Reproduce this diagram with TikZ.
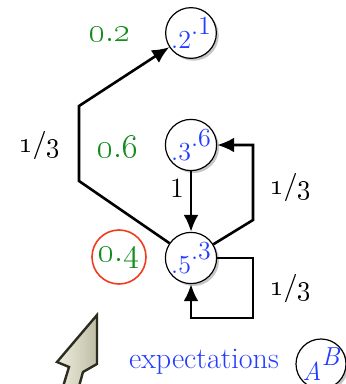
\documentclass[tikz,border=0pt]{standalone}
\usepackage{tikz}
\usetikzlibrary{arrows.meta, shadows}

\definecolor{probgreen}{RGB}{20,140,30}
\definecolor{exblue}{RGB}{35,60,255}
\definecolor{ringred}{RGB}{240,60,30}
\definecolor{cursorline}{RGB}{45,45,30}
\definecolor{cursorlight}{RGB}{238,238,225}
\definecolor{cursordark}{RGB}{190,190,165}

\begin{document}
\begin{tikzpicture}[x=0.5pt, y=-0.5pt, >={Latex[length=8.5pt,width=7.5pt]},
    state/.style={circle, draw, line width=0.6pt, fill=white, minimum size=25pt, inner sep=0pt,
        font=\fontsize{13}{15}\selectfont, text=exblue,
        drop shadow={opacity=0.45, shadow xshift=1.2pt, shadow yshift=-1.2pt}},
    prob/.style={text=probgreen, font=\fontsize{19}{21}\selectfont},
    ring/.style={circle, draw=ringred, line width=0.8pt, minimum size=27pt, inner sep=0pt},
    edge/.style={line width=1.3pt},
    weight/.style={font=\fontsize{14}{16}\selectfont}]
    \useasboundingbox (0,0) rectangle (345,384);

    % States
    \node[state] (n2) at (191,33) {\raisebox{-0.4ex}{.2}\raisebox{0.9ex}{.1}};
    \node[state] (n3) at (191,145) {\raisebox{-0.4ex}{.3}\raisebox{0.9ex}{.6}};
    \node[state] (n5) at (191,258) {\raisebox{-0.4ex}{.5}\raisebox{0.9ex}{.3}};

    % Probabilities
    \node[prob] (p2) at (110,34) {\oldstylenums{0.2}};
    \node[prob] (p6) at (118,146) {\oldstylenums{0.6}};
    \node[prob, ring] (p4) at (119,257) {\oldstylenums{0.4}};

    % Bend points
    \coordinate (l1) at (79,181);
    \coordinate (l2) at (79,106);
    \coordinate (r1) at (253,220);
    \coordinate (r2) at (253,145);
    \coordinate (s1) at (253,258);
    \coordinate (s2) at (253,318);
    \coordinate (s3) at (191,318);

    % Transitions
    \draw[edge, ->] (n5) -- (l1) -- (l2) -- (n2);
    \draw[edge, ->] (n5) -- (r1) -- (r2) -- (n3);
    \draw[edge, ->] (n3) -- (n5);
    \draw[edge, ->] (n5.east) -- (s1) -- (s2) -- (s3) -- (n5.south);

    % Weights
    \node[weight] (w1) at (40,145) {\oldstylenums{1/3}};
    \node[weight] (w2) at (291,187) {\oldstylenums{1/3}};
    \node[weight] (w3) at (291,288) {\oldstylenums{1/3}};
    \node[weight] (w4) at (177,188) {1};

    % Pointer
    \draw[line width=1.2pt, cursorline, left color=cursorlight, right color=cursordark]
        (97,315) -- (97,364) -- (83,372) -- (78,390) -- (62,390) -- (69,367) -- (57,362) -- cycle;

    % Legend
    \node[text=exblue, font=\fontsize{15}{17}\selectfont] (lg) at (204,362) {expectations};
    \node[state, font=\fontsize{13}{15}\selectfont\itshape] (lgs) at (321,364) {\raisebox{-0.4ex}{A}\raisebox{0.9ex}{B}};
\end{tikzpicture}
\end{document}
